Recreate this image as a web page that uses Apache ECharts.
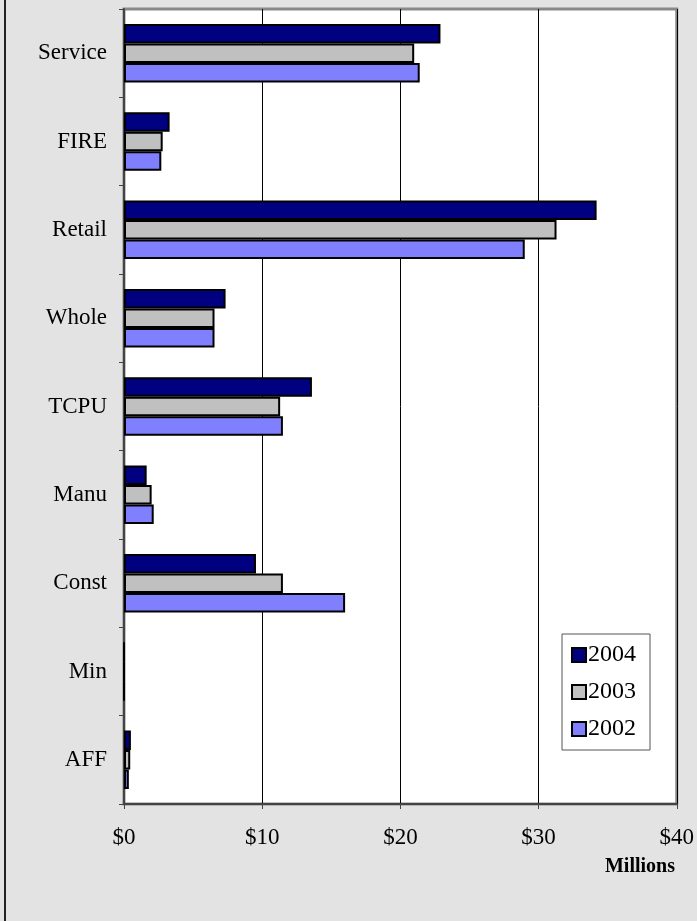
<!DOCTYPE html>
<html>
<head>
<meta charset="utf-8">
<script src="https://cdn.jsdelivr.net/npm/echarts@6/dist/echarts.min.js"></script>
<style>
html,body{margin:0;padding:0;background:#e3e3e3;}
#chart{width:697px;height:921px;}
</style>
</head>
<body>
<div id="chart"></div>
<script>
const categories = ['Service','FIRE','Retail','Whole','TCPU','Manu','Const','Min','AFF'];
const values2004 = [22.9, 3.3, 34.2, 7.35, 13.6, 1.64, 9.55, 0, 0.5];
const values2003 = [21.0, 2.8, 31.3, 6.55, 11.3, 2.0, 11.5, 0, 0.45];
const values2002 = [21.4, 2.7, 29.0, 6.55, 11.5, 2.15, 16.0, 0, 0.35];
const xTicks = [0, 10, 20, 30, 40];

const font = '"Liberation Serif", "Times New Roman", serif';
const chart = echarts.init(document.getElementById('chart'));
const barStyle = (c) => ({color: c, borderColor: '#000', borderWidth: 2});
chart.setOption({
  backgroundColor: '#e3e3e3',
  animation: false,
  grid: {left: 124, right: 20, top: 9, bottom: 117, show: true, backgroundColor: '#fff', borderColor: '#888', borderWidth: 3},
  xAxis: {
    type: 'value', min: xTicks[0], max: xTicks[xTicks.length-1], interval: 10,
    axisLine: {show: true, onZero: false, lineStyle: {color: '#444', width: 2}},
    axisTick: {show: true, length: 5, lineStyle: {color: '#444'}},
    splitLine: {show: true, lineStyle: {color: '#000', width: 1}},
    axisLabel: {formatter: v => '$' + v, color: '#000', fontFamily: font, fontSize: 23, margin: 22}
  },
  yAxis: {
    type: 'category', data: categories, inverse: true,
    axisLine: {show: true, lineStyle: {color: '#444', width: 2}},
    axisTick: {show: true, length: 5, lineStyle: {color: '#444'}},
    axisLabel: {color: '#000', fontFamily: font, fontSize: 23, margin: 17}
  },
  legend: {
    orient: 'vertical', left: 562, top: 634, width: 90,
    data: ['2004','2003','2002'],
    backgroundColor: '#fff', borderColor: '#555', borderWidth: 1,
    padding: [9, 14, 9, 9], itemWidth: 14, itemHeight: 14, itemGap: 13,
    icon: 'rect',
    textStyle: {color: '#000', fontFamily: font, fontSize: 24, padding: [0,0,0,-3]}
  },
  graphic: [
    {type: 'line', shape: {x1: 5, y1: 0, x2: 5, y2: 921}, style: {stroke: '#222', lineWidth: 2}},
    {type: 'text', right: 22, top: 857, style: {text: 'Millions', font: 'bold 20px ' + font, fill: '#000'}}
  ],
  series: [
    {name: '2004', type: 'bar', data: values2004, barWidth: 19.5, barGap: '0%', itemStyle: barStyle('#000080')},
    {name: '2003', type: 'bar', data: values2003, barWidth: 19.5, barGap: '0%', itemStyle: barStyle('#c0c0c0')},
    {name: '2002', type: 'bar', data: values2002, barWidth: 19.5, barGap: '0%', itemStyle: barStyle('#8080ff')}
  ]
});
</script>
</body>
</html>
